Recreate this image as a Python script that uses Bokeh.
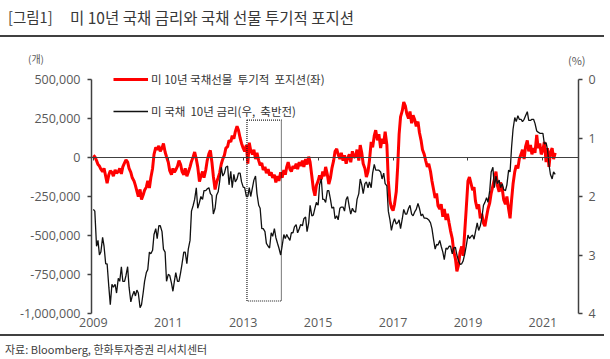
import pandas as pd
from bokeh.plotting import figure
from bokeh.models import (Range1d, LinearAxis, FixedTicker, NumeralTickFormatter,
                          Legend, LegendItem, BoxAnnotation, Div)
from bokeh.layouts import column
from bokeh.embed import file_html
from bokeh.resources import INLINE

# ---------------- data (semi-monthly) ----------------
start_date = "2009-01-01"
end_date = "2021-05-01"

# US 10Y T-note futures speculative net position, thousands of contracts
position_k = [
    # 2009
    15, 5, -20, -45, -55, -75, -90, -70, -120, -165, -110, -85,
    -95, -120, -80, -100, -90, -70, -105, -60, -35, -15, -30, -70,
    # 2010
    -95, -130, -150, -180, -215, -250, -205, -270, -240, -210, -190, -150,
    -195, -130, -70, 20, 65, 50, 75, 40, 60, 90, 35, 5,
    # 2011
    -30, -85, -110, -70, -95, -80, -55, -20, -45, -90, -110, -70,
    -120, -95, -60, -25, 5, 35, -10, -60, -155, -120, -90, -130,
    # 2012
    -80, -20, 25, 45, -30, -120, -205, -160, -130, -100, -40, -10,
    15, 60, 70, 110, 100, 140, 120, 165, 200, 175, 125, 90,
    # 2013
    60, 40, 80, -40, 95, 45, 20, 50, -10, 30, -20, -50,
    -35, -80, -60, -100, -75, -115, -95, -130, -110, -160, -120, -150,
    # 2014
    -95, -130, -80, -110, -60, -30, -75, -90, -55, -70, -40, -75,
    -30, -55, -20, -60, -10, -45, 5, -30, -120, -200, -245, -180,
    # 2015
    -150, -115, -140, -90, -120, -60, -110, -170, -130, -70, -20, 40,
    55, 20, -10, 30, -20, 15, -40, -5, 20, -30, 40, 0,
    # 2016
    10, 50, -20, 80, 30, -40, -70, -125, -90, -20, 100, 65,
    140, 175, 110, 150, 60, 120, 90, 165, 80, -150, -280, -320,
    # 2017
    -340, -300, -220, -60, 150, 260, 300, 355, 330, 280, 250, 295,
    220, 270, 240, 200, 230, 160, 110, 50, 20, -20, -60, -40,
    # 2018
    -90, -150, -210, -260, -230, -310, -330, -300, -380, -330, -400, -360,
    -420, -470, -520, -600, -650, -730, -690, -610, -570, -630, -470, -330,
    # 2019
    -150, -125, -170, -210, -190, -280, -330, -300, -390, -360, -420, -440,
    -380, -330, -290, -230, -180, -140, -90, -180, -220, -160, -200, -270,
    # 2020
    -300, -250, -330, -390, -270, -170, -90, -50, -70, -10, 20, 50,
    -10, 70, 110, 40, 80, 20, 60, 30, 145, 60, 90, 20,
    # 2021
    50, 100, -30, 60, -60, 30, 60, -10, 30,
]

# US 10Y Treasury yield, % (plotted on inverted right axis)
yield_pct = [
    # 2009
    2.22, 2.25, 2.85, 2.75, 3.00, 2.95, 2.70, 2.85, 3.15, 3.15, 3.55, 3.85,
    3.50, 3.55, 3.50, 3.65, 3.40, 3.45, 3.20, 3.45, 3.45, 3.35, 3.20, 3.55,
    # 2010
    3.80, 3.70, 3.62, 3.70, 3.60, 3.65, 3.90, 3.85, 3.65, 3.45, 3.30, 3.25,
    2.95, 2.98, 2.92, 2.65, 2.55, 2.72, 2.50, 2.50, 2.60, 2.90, 2.95, 3.45,
    # 2011
    3.33, 3.35, 3.48, 3.62, 3.45, 3.30, 3.45, 3.45, 3.30, 3.15, 2.95, 2.95,
    3.15, 2.90, 2.75, 2.25, 2.15, 2.05, 1.85, 2.20, 2.10, 2.00, 2.05, 1.90,
    # 2012
    1.90, 1.87, 1.85, 1.95, 1.98, 2.30, 2.20, 1.98, 1.92, 1.75, 1.50, 1.65,
    1.60, 1.50, 1.48, 1.80, 1.57, 1.85, 1.62, 1.75, 1.70, 1.60, 1.60, 1.75,
    # 2013
    1.84, 1.85, 2.00, 2.00, 1.85, 2.00, 1.85, 1.72, 1.65, 1.95, 2.15, 2.20,
    2.55, 2.55, 2.60, 2.80, 2.85, 2.88, 2.62, 2.68, 2.55, 2.70, 2.80, 2.88,
    # 2014
    3.00, 2.85, 2.65, 2.72, 2.65, 2.70, 2.75, 2.62, 2.62, 2.52, 2.48, 2.62,
    2.55, 2.48, 2.50, 2.38, 2.35, 2.60, 2.45, 2.15, 2.33, 2.32, 2.20, 2.10,
    # 2015
    2.15, 1.80, 1.70, 2.05, 2.05, 2.10, 1.90, 1.90, 2.05, 2.20, 2.18, 2.38,
    2.33, 2.40, 2.20, 2.18, 2.18, 2.25, 2.05, 2.00, 2.18, 2.30, 2.20, 2.25,
    # 2016
    2.27, 2.05, 1.95, 1.70, 1.80, 1.95, 1.78, 1.75, 1.85, 1.75, 1.85, 1.60,
    1.45, 1.55, 1.55, 1.55, 1.58, 1.70, 1.60, 1.78, 1.82, 2.25, 2.40, 2.58,
    # 2017
    2.45, 2.38, 2.47, 2.45, 2.40, 2.55, 2.38, 2.22, 2.30, 2.30, 2.20, 2.15,
    2.30, 2.33, 2.26, 2.22, 2.12, 2.20, 2.33, 2.30, 2.37, 2.37, 2.38, 2.40,
    # 2018
    2.45, 2.55, 2.75, 2.90, 2.82, 2.83, 2.75, 2.85, 2.95, 3.08, 2.88, 2.90,
    2.85, 2.85, 2.98, 2.88, 2.87, 3.00, 3.10, 3.16, 3.15, 3.10, 2.98, 2.85,
    # 2019
    2.66, 2.72, 2.68, 2.66, 2.73, 2.60, 2.45, 2.58, 2.50, 2.38, 2.15, 2.10,
    2.02, 2.10, 1.90, 1.58, 1.50, 1.85, 1.65, 1.78, 1.72, 1.85, 1.78, 1.88,
    # 2020
    1.90, 1.80, 1.55, 1.58, 1.15, 0.85, 0.65, 0.72, 0.62, 0.68, 0.68, 0.72,
    0.68, 0.62, 0.55, 0.70, 0.70, 0.68, 0.68, 0.75, 0.88, 0.90, 0.92, 0.92,
    # 2021
    0.92, 1.10, 1.08, 1.20, 1.45, 1.62, 1.70, 1.58, 1.62,
]

# highlighted period (dotted box)
box_years = [2013.1, 2014.02]
box_values = [-920000, 240000]

x_ticks = [2009, 2011, 2013, 2015, 2017, 2019, 2021]
left_ticks = [-1000000, -750000, -500000, -250000, 0, 250000, 500000]
right_ticks = [0, 1, 2, 3, 4]

title_tag = "[그림1]"
title_text = "미 10년 국채 금리와 국채 선물 투기적 포지션"
legend_red = "미 10년 국채선물  투기적  포지션(좌)"
legend_black = "미 국채  10년 금리(우,  축반전)"
unit_left = "(개)"
unit_right = "(%)"
source_text = "자료: Bloomberg, 한화투자증권 리서치센터"

# ---------------- build x (fractional year) ----------------
dates = pd.date_range(start_date, end_date, freq="SMS")
assert len(dates) == len(position_k) == len(yield_pct)
xyear = [d.year + (d - pd.Timestamp(year=d.year, month=1, day=1)).days / 365.25 for d in dates]
position = [v * 1000 for v in position_k]

FONT = "Noto Sans CJK KR"
NUMFONT = "Open Sans"
AX = "#404040"
LBL = "#595959"
W = 604

# frame: 13px of headroom above the 500,000 / 0% level so the legend is not clipped
L_MIN, L_MAX = left_ticks[0], left_ticks[-1]
R_MIN, R_MAX = right_ticks[0], right_ticks[-1]
HEAD = 13.0 / 234.0
l_top = L_MAX + (L_MAX - L_MIN) * HEAD
r_top = R_MIN - (R_MAX - R_MIN) * HEAD

p = figure(width=W, height=267, output_backend="svg", toolbar_location=None,
           title=None, x_range=Range1d(2008.95, 2021.95),
           y_range=Range1d(L_MIN, l_top),
           min_border_left=91, min_border_right=W - 578, min_border_top=0, min_border_bottom=20)
p.margin = (0, 0, 0, 0)
p.outline_line_color = None
p.xgrid.visible = False
p.ygrid.visible = False
p.extra_y_ranges = {"rate": Range1d(R_MAX, r_top)}

# bottom axis: labels only
xa = p.xaxis[0]
xa.ticker = FixedTicker(ticks=x_ticks)
xa.axis_line_color = None
xa.major_tick_line_color = None
xa.minor_tick_line_color = None
xa.major_tick_out = 0
xa.major_label_standoff = 4
xa.major_label_text_font = NUMFONT
xa.major_label_text_font_size = "12.5px"
xa.major_label_text_color = LBL

# axis crossing at zero with small ticks
xz = LinearAxis(fixed_location=0, ticker=FixedTicker(ticks=x_ticks),
                major_label_overrides={t: "" for t in x_ticks},
                axis_line_color=AX, axis_line_width=1,
                major_tick_line_color=AX, major_tick_out=3, major_tick_in=0,
                minor_tick_line_color=None)
p.add_layout(xz, "below")

ya = p.yaxis[0]
ya.ticker = FixedTicker(ticks=left_ticks)
ya.formatter = NumeralTickFormatter(format="0,0")
ya.bounds = (L_MIN, L_MAX)
ya.axis_line_color = AX
ya.axis_line_width = 1.5
ya.major_tick_line_color = AX
ya.major_tick_line_width = 1.5
ya.major_tick_out = 4
ya.major_tick_in = 0
ya.minor_tick_line_color = None
ya.major_label_standoff = 7
ya.major_label_text_font = NUMFONT
ya.major_label_text_font_size = "12.5px"
ya.major_label_text_color = LBL

ra = LinearAxis(y_range_name="rate", ticker=FixedTicker(ticks=right_ticks),
                bounds=(R_MIN, R_MAX),
                axis_line_color=AX, axis_line_width=1.5,
                major_tick_line_color=AX, major_tick_line_width=1.5,
                major_tick_out=4, major_tick_in=0,
                minor_tick_line_color=None, major_label_standoff=6,
                major_label_text_font=NUMFONT, major_label_text_font_size="12.5px",
                major_label_text_color=LBL)
p.add_layout(ra, "right")

box = BoxAnnotation(left=box_years[0], right=box_years[1],
                    bottom=box_values[0], top=box_values[1],
                    fill_alpha=0, fill_color=None, line_color="#1a1a1a",
                    line_alpha=1.0, line_width=1.2, line_dash="1 1")
p.add_layout(box)

r_red = p.line(xyear, position, line_color="#ff0000", line_width=3)
r_blk = p.line(xyear, yield_pct, y_range_name="rate", line_color="#111111", line_width=1.3)

legend = Legend(items=[LegendItem(label=legend_red, renderers=[r_red]),
                       LegendItem(label=legend_black, renderers=[r_blk])],
                location=(22, 192), orientation="vertical",
                glyph_width=35, glyph_height=20, label_height=20, spacing=12,
                padding=0, margin=0, label_standoff=3,
                label_text_font=FONT, label_text_font_size="11.5px",
                label_text_color="#333333",
                background_fill_color=None, border_line_color=None)
p.add_layout(legend)

title_div = Div(
    text=(f'<div style="position:relative;width:{W}px;height:66px;font-family:\'{FONT}\';color:#383838;">'
          f'<div style="position:absolute;left:0;top:0;width:{W}px;height:37px;border-bottom:2px solid {AX};"></div>'
          f'<span style="position:absolute;left:8px;top:8px;font-size:14.5px;line-height:18px;white-space:nowrap;">{title_tag}</span>'
          f'<span style="position:absolute;left:70px;top:8px;font-size:15.5px;line-height:18px;white-space:nowrap;">{title_text}</span>'
          f'<span style="position:absolute;left:28px;top:52px;font-size:10px;line-height:14px;color:{LBL};white-space:nowrap;">{unit_left}</span>'
          f'<span style="position:absolute;left:568px;top:53px;font-size:11px;line-height:14px;color:{LBL};white-space:nowrap;">{unit_right}</span>'
          f'</div>'),
    width=W, height=66, margin=(0, 0, 0, 0))

source_div = Div(
    text=(f'<div style="position:relative;width:{W}px;height:25px;font-family:\'{FONT}\';">'
          f'<div style="position:absolute;left:0;top:1px;width:{W}px;border-top:2px solid {AX};"></div>'
          f'<span style="position:absolute;left:5px;top:10px;font-size:11px;line-height:13px;color:#404040;white-space:nowrap;">{source_text}</span>'
          f'</div>'),
    width=W, height=25, margin=(0, 0, 0, 0))

layout = column(title_div, p, source_div, spacing=0)

open("out.html", "w").write(file_html(layout, INLINE))
